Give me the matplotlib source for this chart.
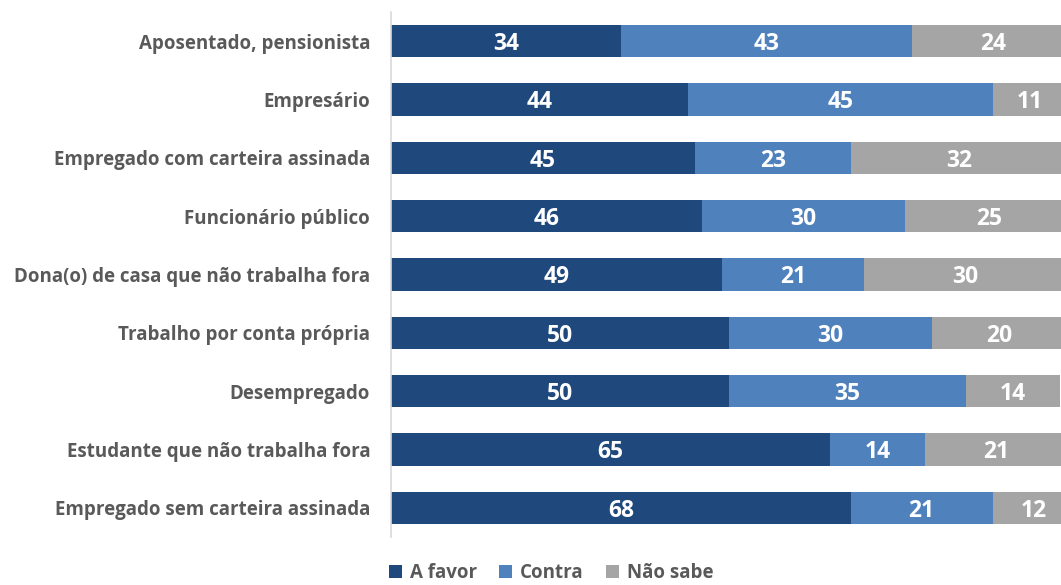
import numpy as np
import matplotlib.pyplot as plt

categories = ['Aposentado, pensionista', 'Empresário', 'Empregado com carteira assinada',
              'Funcionário público', 'Dona(o) de casa que não trabalha fora',
              'Trabalho por conta própria', 'Desempregado',
              'Estudante que não trabalha fora', 'Empregado sem carteira assinada']
a_favor = [34, 44, 45, 46, 49, 50, 50, 65, 68]
contra = [43, 45, 23, 30, 21, 30, 35, 14, 21]
nao_sabe = [24, 11, 32, 25, 30, 20, 14, 21, 12]
series_names = ['A favor', 'Contra', 'Não sabe']

colors = ['#1F497D', '#4F81BD', '#A5A5A5']
plt.rcParams['font.family'] = ['Open Sans', 'DejaVu Sans']

fig = plt.figure(figsize=(10.61, 5.85), dpi=100)
ax = fig.add_axes([391 / 1061, 1 - 537 / 585, 1 - 391 / 1061, (537 - 12) / 585])

y = np.arange(len(categories))
left = np.zeros(len(categories))
bars = []
for vals, col, name in zip([a_favor, contra, nao_sabe], colors, series_names):
    b = ax.barh(y, vals, left=left, height=0.55, color=col, label=name)
    for yi, l, v in zip(y, left, vals):
        ax.text(l + v / 2, yi, str(v), ha='center', va='center_baseline', color='white',
                fontsize=16.5, fontweight='bold')
    left = left + np.array(vals)
    bars.append(b)

ax.set_xlim(0, 99.1)
ax.set_ylim(len(categories) - 0.5, -0.5)
ax.set_yticks(y)
ax.set_yticklabels(categories, fontsize=13.5, fontweight='bold', color='#595959')
ax.tick_params(axis='y', length=0, pad=15)
ax.set_xticks([])
for s in ['top', 'right', 'bottom']:
    ax.spines[s].set_visible(False)
ax.spines['left'].set_color('#D9D9D9')
ax.spines['left'].set_linewidth(1.2)

leg = fig.legend(handles=bars, labels=series_names, loc='center', ncol=3,
                 bbox_to_anchor=(551 / 1061, 1 - 573 / 585), frameon=False,
                 handlelength=0.7, handleheight=0.7, handletextpad=0.4,
                 columnspacing=1.2, prop={'size': 13.5, 'weight': 'bold'})
for t in leg.get_texts():
    t.set_color('#595959')

fig.savefig('out.png', dpi=100)
